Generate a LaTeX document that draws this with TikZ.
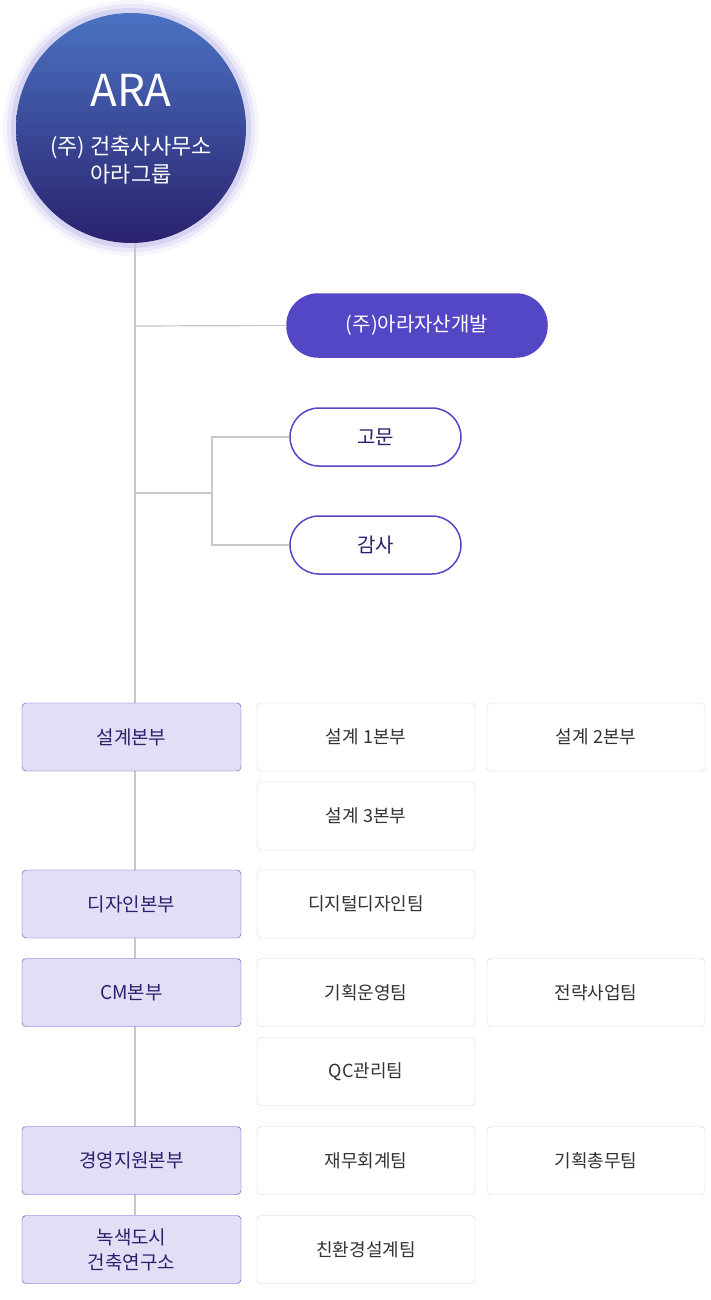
\documentclass[tikz,border=0pt]{standalone}
\usepackage{fontspec}
\setmainfont{Noto Sans CJK KR}
\usetikzlibrary{shadings}
\definecolor{araPurple}{HTML}{5447C6}
\definecolor{araDark}{HTML}{2B226E}
\definecolor{araBlue}{HTML}{4A72C2}
\definecolor{araLav}{HTML}{E1DFF5}
\definecolor{araLine}{HTML}{C8C8C8}
\tikzset{
  dept/.style={draw=araPurple, fill=araLav, rounded corners=4pt, minimum width=219pt,
    minimum height=68pt, align=center, font=\fontsize{19}{22}\selectfont, text=araDark},
  team/.style={draw=araLine!80, fill=white, rounded corners=4pt, minimum width=218pt,
    minimum height=68pt, align=center, font=\fontsize{18}{21}\selectfont, text=black!80},
  pill/.style={draw=araPurple, line width=1.5pt, fill=white, rounded corners=29pt,
    minimum width=171pt, minimum height=58pt, font=\fontsize{20}{22}\selectfont, text=araDark},
  link/.style={draw=araLine, line width=1.2pt}
}
\begin{document}
\begin{tikzpicture}[x=1pt,y=-1pt]
\useasboundingbox (0,0) rectangle (710,1300);
% glow
\foreach \r/\o in {128/0.05,124/0.08,120/0.12}
  \fill[araPurple, opacity=\o] (131,128) circle (\r);
\shade[top color=araBlue, bottom color=araDark] (131,128) circle (115);
\node[font=\fontsize{44}{48}\selectfont, text=white] (ara) at (131,90) {ARA};
\node[font=\fontsize{22}{28}\selectfont, text=white, align=center] (arasub) at (131,160)
  {(주) 건축사사무소\\아라그룹};
\coordinate (top) at (135,243);
\coordinate (bot) at (135,1215);
\draw[link] (top) -- (bot);
% affiliates
\node[pill, fill=araPurple, text=white, minimum width=260pt, minimum height=63pt,
  rounded corners=31pt] (dev) at (417,325.5) {(주)아라자산개발};
\draw[link] (135,326) -- (dev.west);
\node[pill] (adv) at (375.5,437) {고문};
\node[pill] (aud) at (375.5,545) {감사};
\coordinate (fork) at (212,493);
\draw[link] (135,493) -- (fork);
\draw[link] (adv.west) -| (fork) |- (aud.west);
% departments
\node[dept] (d1) at (131.5,737) {설계본부};
\node[dept] (d2) at (131.5,904) {디자인본부};
\node[dept] (d3) at (131.5,992.5) {CM본부};
\node[dept] (d4) at (131.5,1160.5) {경영지원본부};
\node[dept, font=\fontsize{19}{25}\selectfont] (d5) at (131.5,1249.5) {녹색도시\\건축연구소};
% teams
\node[team] (t11) at (366,737) {설계 1본부};
\node[team] (t12) at (596,737) {설계 2본부};
\node[team] (t13) at (366,816) {설계 3본부};
\node[team] (t21) at (366,904) {디지털디자인팀};
\node[team] (t31) at (366,992.5) {기획운영팀};
\node[team] (t32) at (596,992.5) {전략사업팀};
\node[team] (t33) at (366,1071.5) {QC관리팀};
\node[team] (t41) at (366,1160.5) {재무회계팀};
\node[team] (t42) at (596,1160.5) {기획총무팀};
\node[team] (t51) at (366,1249.5) {친환경설계팀};
\end{tikzpicture}
\end{document}
